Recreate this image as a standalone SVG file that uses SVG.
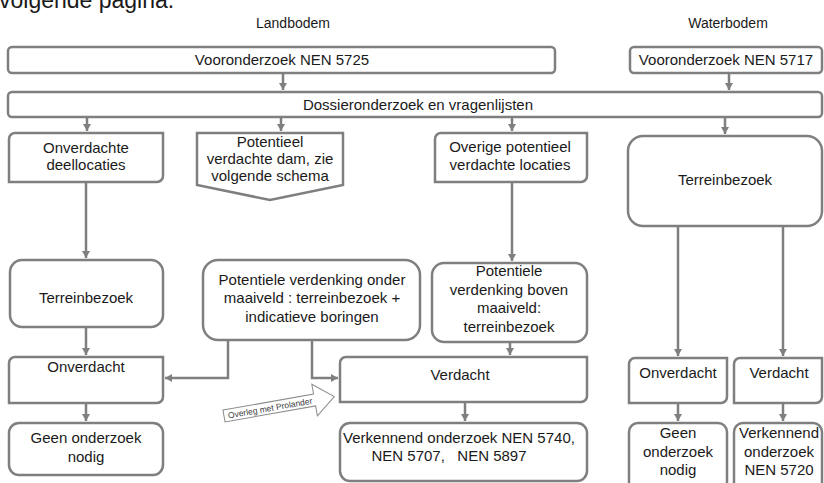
<svg xmlns="http://www.w3.org/2000/svg" width="824" height="483" viewBox="0 0 824 483">
<defs>
<style>
.b{fill:#fff;stroke:#7f7f7f;stroke-width:2.5}
.t{font-family:"Liberation Sans",Arial,sans-serif;font-size:15px;fill:#1a1a1a;text-anchor:middle}
.h{font-family:"Liberation Sans",Arial,sans-serif;font-size:14px;fill:#1a1a1a;text-anchor:middle}
.c{fill:none;stroke:#7f7f7f;stroke-width:2.5}
</style>
<marker id="ah" markerUnits="userSpaceOnUse" markerWidth="10" markerHeight="10" refX="8" refY="5" orient="auto">
<path d="M1,1 L8,5 L1,9 Z" fill="#7f7f7f"/>
</marker>
</defs>
<rect width="824" height="483" fill="#fff"/>
<text x="-1" y="8" font-family="'Liberation Sans',Arial,sans-serif" font-size="23" fill="#1a1a1a">volgende pagina.</text>
<text class="h" x="293" y="28">Landbodem</text>
<text class="h" x="728" y="28">Waterbodem</text>

<g id="connectors">
<path class="c" d="M283,73 V90" marker-end="url(#ah)"/>
<path class="c" d="M729,73 V90" marker-end="url(#ah)"/>
<path class="c" d="M87,117 V131" marker-end="url(#ah)"/>
<path class="c" d="M281,117 V131" marker-end="url(#ah)"/>
<path class="c" d="M512,117 V131" marker-end="url(#ah)"/>
<path class="c" d="M725,117 V134" marker-end="url(#ah)"/>
<path class="c" d="M86,182 V258" marker-end="url(#ah)"/>
<path class="c" d="M512,182 V261" marker-end="url(#ah)"/>
<path class="c" d="M678,226 V356" marker-end="url(#ah)"/>
<path class="c" d="M783,226 V356" marker-end="url(#ah)"/>
<path class="c" d="M86,327 V355" marker-end="url(#ah)"/>
<path class="c" d="M228,340 V378 H165" marker-end="url(#ah)"/>
<path class="c" d="M312,340 V378 H338" marker-end="url(#ah)"/>
<path class="c" d="M510,342 V355" marker-end="url(#ah)"/>
<path class="c" d="M86,403 V421" marker-end="url(#ah)"/>
<path class="c" d="M465,402 V421" marker-end="url(#ah)"/>
<path class="c" d="M678,403 V421" marker-end="url(#ah)"/>
<path class="c" d="M783,403 V421" marker-end="url(#ah)"/>
</g>

<g id="voor5725"><rect class="b" x="8" y="47" width="547" height="26" rx="4"/><text class="t" x="282" y="65">Vooronderzoek NEN 5725</text></g>
<g id="voor5717"><rect class="b" x="630" y="47" width="192" height="26" rx="4"/><text class="t" x="726" y="65">Vooronderzoek NEN 5717</text></g>
<g id="dossier"><rect class="b" x="8" y="92" width="814" height="25" rx="4"/><text class="t" x="418" y="110">Dossieronderzoek en vragenlijsten</text></g>

<g id="onverdachte-deellocaties"><path class="b" d="M15,133 H163 V176 A6,6 0 0 1 157,182 H9 V139 A6,6 0 0 1 15,133 Z"/><text class="t" x="86" y="153">Onverdachte</text><text class="t" x="86" y="170">deellocaties</text></g>
<g id="potentieel-dam"><path class="b" d="M197,133 H343 V185 L270,200 L197,185 Z"/><text class="t" x="270" y="147">Potentieel</text><text class="t" x="270" y="164">verdachte dam, zie</text><text class="t" x="270" y="181">volgende schema</text></g>
<g id="overige"><path class="b" d="M441,133 H587 V176 A6,6 0 0 1 581,182 H435 V139 A6,6 0 0 1 441,133 Z"/><text class="t" x="510" y="152">Overige potentieel</text><text class="t" x="510" y="170">verdachte locaties</text></g>
<g id="terreinbezoek-water"><rect class="b" x="628" y="136" width="194" height="90" rx="15"/><text class="t" x="725" y="185">Terreinbezoek</text></g>

<g id="terreinbezoek-land"><rect class="b" x="10" y="260" width="153" height="67" rx="12"/><text class="t" x="86" y="303">Terreinbezoek</text></g>
<g id="onder-maaiveld"><rect class="b" x="203" y="260" width="217" height="80" rx="15"/><text class="t" x="312" y="285">Potentiele verdenking onder</text><text class="t" x="312" y="303">maaiveld : terreinbezoek +</text><text class="t" x="312" y="322">indicatieve boringen</text></g>
<g id="boven-maaiveld"><rect class="b" x="432" y="263" width="155" height="79" rx="12"/><text class="t" x="509" y="276">Potentiele</text><text class="t" x="509" y="295">verdenking boven</text><text class="t" x="509" y="313">maaiveld:</text><text class="t" x="509" y="332">terreinbezoek</text></g>

<g id="onverdacht-land"><path class="b" d="M15,357 H163 V397 A6,6 0 0 1 157,403 H9 V363 A6,6 0 0 1 15,357 Z"/><text class="t" x="86" y="372">Onverdacht</text></g>
<g id="verdacht-land"><path class="b" d="M346,357 H587 V396 A6,6 0 0 1 581,402 H340 V363 A6,6 0 0 1 346,357 Z"/><text class="t" x="460" y="380">Verdacht</text></g>
<g id="onverdacht-water"><path class="b" d="M635,358 H727 V397 A6,6 0 0 1 721,403 H629 V364 A6,6 0 0 1 635,358 Z"/><text class="t" x="678" y="378">Onverdacht</text></g>
<g id="verdacht-water"><path class="b" d="M740,358 H822 V397 A6,6 0 0 1 816,403 H734 V364 A6,6 0 0 1 740,358 Z"/><text class="t" x="779" y="378">Verdacht</text></g>

<g id="geen-land"><rect class="b" x="9" y="423" width="154" height="52" rx="10"/><text class="t" x="86" y="443">Geen onderzoek</text><text class="t" x="86" y="462">nodig</text></g>
<g id="verkennend-land"><rect class="b" x="340" y="423" width="247" height="58" rx="10"/><text class="t" x="459" y="443">Verkennend onderzoek NEN 5740,</text><text class="t" x="449" y="461" xml:space="preserve">NEN 5707,   NEN 5897</text></g>
<g id="geen-water"><rect class="b" x="629" y="423" width="98" height="70" rx="9"/><text class="t" x="678" y="438">Geen</text><text class="t" x="678" y="457">onderzoek</text><text class="t" x="678" y="475">nodig</text></g>
<g id="verkennend-water"><rect class="b" x="734" y="423" width="88" height="70" rx="9"/><text class="t" x="779" y="438">Verkennend</text><text class="t" x="779" y="457">onderzoek</text><text class="t" x="779" y="475">NEN 5720</text></g>

<g id="overleg" transform="translate(224,416) rotate(-10)"><path d="M0,-6 H92 V-16 L112,0 L92,16 V6 H0 Z" fill="#fff" stroke="#8c8c8c" stroke-width="1"/><text x="4" y="3.2" font-family="'Liberation Sans',Arial,sans-serif" font-size="8.5" fill="#404040">Overleg met Prolander</text></g>
</svg>
